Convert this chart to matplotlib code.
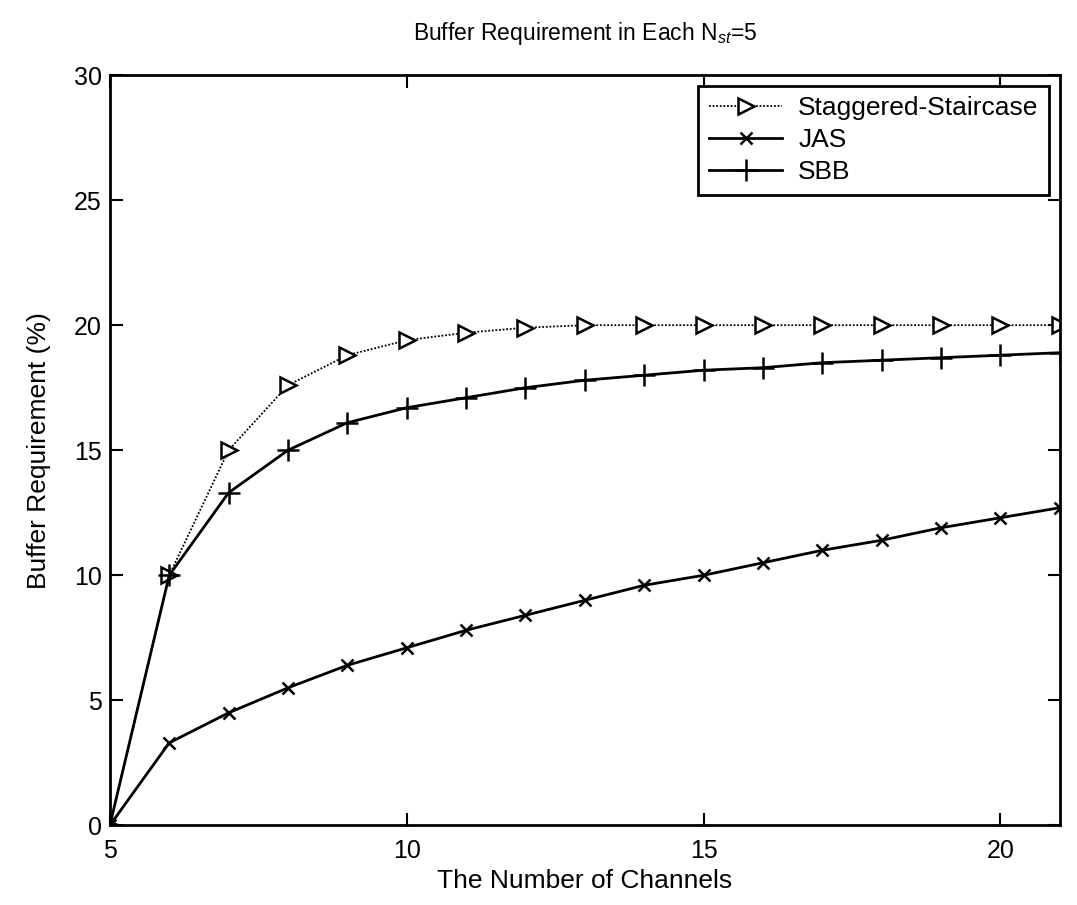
import matplotlib
matplotlib.use("Agg")
import matplotlib.pyplot as plt

plt.rcParams['font.family'] = ['Liberation Sans', 'DejaVu Sans']
plt.rcParams['mathtext.fontset'] = 'custom'
plt.rcParams['mathtext.rm'] = 'Liberation Sans'
plt.rcParams['mathtext.it'] = 'Liberation Sans:italic'

# ---- data ----
channels = [5, 6, 7, 8, 9, 10, 11, 12, 13, 14, 15, 16, 17, 18, 19, 20, 21]
staggered = [0, 10.0, 15.0, 17.6, 18.8, 19.4, 19.7, 19.9, 20.0, 20.0, 20.0,
             20.0, 20.0, 20.0, 20.0, 20.0, 20.0]
jas = [0, 3.3, 4.5, 5.5, 6.4, 7.1, 7.8, 8.4, 9.0, 9.6, 10.0,
       10.5, 11.0, 11.4, 11.9, 12.3, 12.7]
sbb = [0, 10.0, 13.3, 15.0, 16.1, 16.7, 17.1, 17.5, 17.8, 18.0, 18.2,
       18.3, 18.5, 18.6, 18.7, 18.8, 18.9]

fig = plt.figure(figsize=(10.77, 9.05), dpi=100)
ax = fig.add_axes([0.102, 0.088, 0.882, 0.829])

ax.plot(channels, staggered, linestyle=(0, (1, 1)), color='black', linewidth=1.3,
        marker='>', markersize=11, markerfacecolor='white',
        markeredgecolor='black', markeredgewidth=1.8, label='Staggered-Staircase')
ax.plot(channels, jas, linestyle='-', color='black', linewidth=2.0,
        marker='x', markersize=9, markeredgewidth=1.8, label='JAS')
ax.plot(channels, sbb, linestyle='-', color='black', linewidth=2.0,
        marker='+', markersize=16, markeredgewidth=1.8, label='SBB')

ax.set_xlim(5, 21)
ax.set_ylim(0, 30)
ax.set_xticks([5, 10, 15, 20])
ax.set_yticks([0, 5, 10, 15, 20, 25, 30])
ax.tick_params(direction='in', length=9, width=1.5, top=True, right=True,
               labelsize=18, pad=6)
ax.tick_params(axis='x', pad=10)
for s in ax.spines.values():
    s.set_linewidth(2)

ax.set_xlabel('The Number of Channels', fontsize=19, labelpad=4)
ax.set_ylabel('Buffer Requirement (%)', fontsize=19, labelpad=16)
ax.set_title(r'Buffer Requirement in Each N$_{\it{st}}$=5', fontsize=16.5, pad=25)

leg = ax.legend(loc='upper right', fontsize=19, fancybox=False, framealpha=1,
                edgecolor='black', handlelength=2.8, borderaxespad=0.4,
                labelspacing=0.3, borderpad=0.4, handletextpad=0.6)
leg.get_frame().set_linewidth(2)

fig.savefig('out.png', dpi=100)
